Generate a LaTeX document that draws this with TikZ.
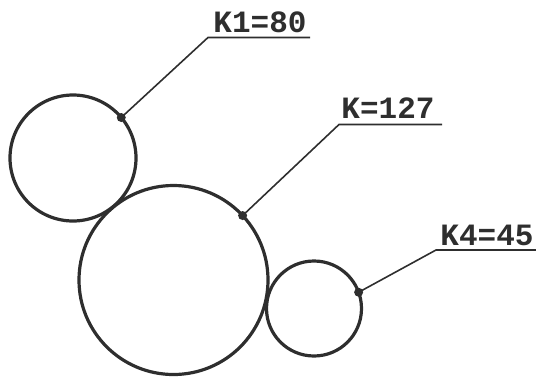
\documentclass[tikz,border=0pt]{standalone}
\usepackage{fontspec}
\setmonofont{Liberation Mono}
\definecolor{ink}{HTML}{2E2E2E}
\begin{document}
\begin{tikzpicture}[x=1pt,y=-1pt,
  gear/.style={draw=ink,circle,line width=3.2pt,inner sep=0pt,outer sep=0pt},
  lead/.style={draw=ink,line width=1.6pt},
  knot/.style={fill=ink,circle,inner sep=0pt,outer sep=0pt,minimum size=9pt},
  lbl/.style={font=\ttfamily\bfseries\fontsize{31}{31}\selectfont,text=ink,inner sep=0pt,anchor=base}]
\useasboundingbox (0,0) rectangle (536,376);
\node[gear,minimum size=126pt] (c1) at (73,158) {};
\node[gear,minimum size=189pt] (c2) at (173.5,280) {};
\node[gear,minimum size=95pt] (c3) at (314,308.5) {};
\node[knot] (d1) at (c1.40) {};
\node[knot] (d2) at (c2.43) {};
\node[knot] (d3) at (c3.20) {};
\coordinate (u1a) at (208,37.5);
\coordinate (u1b) at (310,37.5);
\coordinate (u2a) at (339,124.5);
\coordinate (u2b) at (442,124.5);
\coordinate (u3a) at (436,250);
\coordinate (u3b) at (536,250);
\draw[lead] (d1.center) -- (u1a) -- (u1b);
\draw[lead] (d2.center) -- (u2a) -- (u2b);
\draw[lead] (d3.center) -- (u3a) -- (u3b);
\node[lbl] (t1) at (260,32) {K1=80};
\node[lbl] (t2) at (388,118) {K=127};
\node[lbl] (t3) at (487,245) {K4=45};
\end{tikzpicture}
\end{document}
